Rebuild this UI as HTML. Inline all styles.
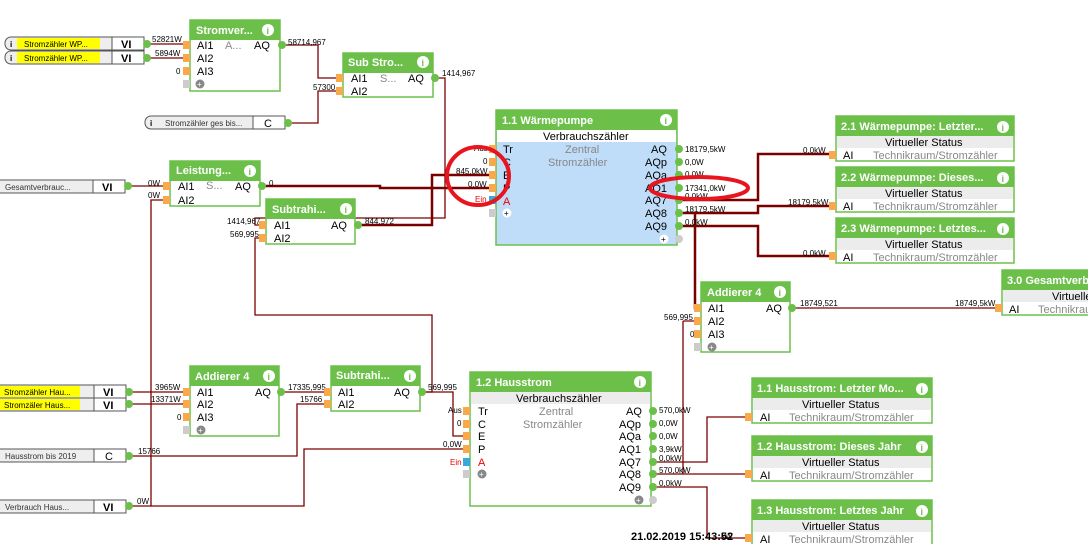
<!DOCTYPE html>
<html><head><meta charset="utf-8"><style>
html,body{margin:0;padding:0;background:#fff;width:1088px;height:544px;overflow:hidden}
svg{display:block;font-family:"Liberation Sans",sans-serif}
.w{fill:none;stroke:#7a0000;stroke-width:1.3}
.wt{fill:none;stroke:#7a0000;stroke-width:2.5}
.v{font-size:8px;fill:#000}
.p{font-size:11px;fill:#000}
.g{font-size:11px;fill:#888}
.t{font-size:11px;font-weight:bold;fill:#fff}
.in{fill:#f7a94b}
.out{fill:#6cc04a}
.box{fill:#fff;stroke:#6cc04a;stroke-width:1.5}
.hd{fill:#6cc04a}
.sub{fill:#ececec}
</style></head><body>
<svg width="1088" height="544" viewBox="0 0 1088 544">
<defs>
<g id="info"><circle r="6" fill="#fff"/><text x="-1.5" y="4" font-size="9" font-weight="bold" fill="#6cc04a">i</text></g>
</defs>

<!-- wires -->
<polyline class="w" points="148,44 190,44"/>
<polyline class="w" points="148,58 190,58"/>
<polyline class="w" points="283,45 318,45 318,78 343,78"/>
<polyline class="w" points="289,123 318,123 318,91 343,91"/>
<polyline class="w" points="436,78 445,78 445,218 255,218 255,225 266,225"/>
<polyline class="w" points="129,186 170,186"/>
<polyline class="w" points="170,200 151,200 151,506 129,506"/>
<polyline class="wt" points="263,186 380,186 380,188 496,188"/>
<polyline class="wt" points="358,225 432,225 432,175 496,175"/>
<polyline class="w" points="423,392 432,392 432,315 255,315 255,238 266,238"/>
<polyline class="w" points="423,392 453,392 453,436 470,436"/>
<polyline class="w" points="129,392 190,392"/>
<polyline class="w" points="129,404 190,404"/>
<polyline class="w" points="282,392 331,392"/>
<polyline class="w" points="129,456 297,456 297,404 331,404"/>
<polyline class="w" points="151,506 304,506 304,449 470,449"/>
<polyline class="wt" points="680,200 758,200 758,154 836,154"/>
<polyline class="wt" points="680,213 758,213 758,206 836,206"/>
<polyline class="wt" points="680,226 758,226 758,256 836,256"/>
<polyline class="wt" points="695,213 695,308 701,308"/>
<polyline class="w" points="683,321 701,321"/>
<polyline class="w" points="683,321 683,474"/>
<polyline class="w" points="793,308 1002,308"/>
<polyline class="w" points="654,462 707,462 707,417 752,417"/>
<polyline class="w" points="654,474 752,474"/>
<polyline class="w" points="654,487 707,487 707,538 752,538"/>

<!-- wire labels -->
<text class="v" x="152" y="42">52821W</text>
<text class="v" x="155" y="56">5894W</text>
<text class="v" x="176" y="74">0</text>
<text class="v" x="288" y="45">58714,967</text>
<text class="v" x="313" y="90">57300</text>
<text class="v" x="442" y="76">1414,967</text>
<text class="v" x="148" y="186">0W</text>
<text class="v" x="148" y="198">0W</text>
<text class="v" x="269" y="186">0</text>
<text class="v" x="227" y="224">1414,967</text>
<text class="v" x="230" y="237">569,995</text>
<text class="v" x="365" y="224">844,972</text>
<text class="v" x="474" y="151">Aus</text>
<text class="v" x="483" y="164">0</text>
<text class="v" x="456" y="174">845,0kW</text>
<text class="v" x="468" y="187">0,0W</text>
<text class="v" x="475" y="202" fill="#e00" style="fill:#e00">Ein</text>
<text class="v" x="685" y="152">18179,5kW</text>
<text class="v" x="685" y="165">0,0W</text>
<text class="v" x="685" y="177">0,0W</text>
<text class="v" x="685" y="191">17341,0kW</text>
<text class="v" x="685" y="199">0,0kW</text>
<text class="v" x="685" y="212">18179,5kW</text>
<text class="v" x="685" y="225">0,0kW</text>
<text class="v" x="803" y="153">0,0kW</text>
<text class="v" x="788" y="205">18179,5kW</text>
<text class="v" x="803" y="256">0,0kW</text>
<text class="v" x="664" y="320">569,995</text>
<text class="v" x="690" y="337">0</text>
<text class="v" x="800" y="306">18749,521</text>
<text class="v" x="955" y="306">18749,5kW</text>
<text class="v" x="155" y="390">3965W</text>
<text class="v" x="151" y="402">13371W</text>
<text class="v" x="177" y="420">0</text>
<text class="v" x="288" y="390">17335,995</text>
<text class="v" x="300" y="402">15766</text>
<text class="v" x="138" y="454">15766</text>
<text class="v" x="137" y="504">0W</text>
<text class="v" x="428" y="390">569,995</text>
<text class="v" x="448" y="413">Aus</text>
<text class="v" x="457" y="426">0</text>
<text class="v" x="443" y="447">0,0W</text>
<text class="v" x="450" y="465" style="fill:#e00">Ein</text>
<text class="v" x="659" y="413">570,0kW</text>
<text class="v" x="659" y="426">0,0W</text>
<text class="v" x="659" y="439">0,0W</text>
<text class="v" x="659" y="452">3,9kW</text>
<text class="v" x="659" y="461">0,0kW</text>
<text class="v" x="659" y="473">570,0kW</text>
<text class="v" x="659" y="486">0,0kW</text>

<!-- left inputs -->
<g>
<rect x="5" y="37" width="139" height="13" rx="6" fill="#eee" stroke="#555"/>
<rect x="17" y="38" width="83" height="11" fill="#ff0"/>
<rect x="112" y="37" width="32" height="13" fill="#fff" stroke="#555"/>
<text x="10" y="47" font-size="8" font-weight="bold">i</text>
<text x="24" y="47" font-size="8">Stromzähler  WP...</text>
<text x="121" y="48" class="p" font-weight="bold">VI</text>
<circle class="out" cx="147" cy="44" r="4"/>
<rect x="5" y="51" width="139" height="13" rx="6" fill="#eee" stroke="#555"/>
<rect x="17" y="52" width="83" height="11" fill="#ff0"/>
<rect x="112" y="51" width="32" height="13" fill="#fff" stroke="#555"/>
<text x="10" y="61" font-size="8" font-weight="bold">i</text>
<text x="24" y="61" font-size="8">Stromzähler  WP...</text>
<text x="121" y="62" class="p" font-weight="bold">VI</text>
<circle class="out" cx="147" cy="58" r="4"/>

<rect x="145" y="116" width="140" height="13" rx="6" fill="#eee" stroke="#555"/>
<rect x="253" y="116" width="32" height="13" fill="#fff" stroke="#555"/>
<text x="150" y="126" font-size="8" font-weight="bold">i</text>
<text x="165" y="126" font-size="8" fill="#333">Stromzähler  ges  bis...</text>
<text x="264" y="127" class="p">C</text>
<circle class="out" cx="288" cy="123" r="4"/>

<rect x="-2" y="180" width="127" height="13" fill="#eee" stroke="#555"/>
<rect x="93" y="180" width="32" height="13" fill="#fff" stroke="#555"/>
<text x="5" y="190" font-size="8" fill="#333">Gesamtverbrauc...</text>
<text x="102" y="191" class="p" font-weight="bold">VI</text>
<circle class="out" cx="128" cy="186" r="4"/>

<rect x="-2" y="385" width="128" height="13" fill="#eee" stroke="#555"/>
<rect x="0" y="386" width="80" height="11" fill="#ff0"/>
<rect x="94" y="385" width="32" height="13" fill="#fff" stroke="#555"/>
<text x="4" y="395" font-size="8">Stromzähler  Hau...</text>
<text x="103" y="396" class="p" font-weight="bold">VI</text>
<circle class="out" cx="129" cy="392" r="4"/>
<rect x="-2" y="398" width="128" height="13" fill="#eee" stroke="#555"/>
<rect x="0" y="399" width="80" height="11" fill="#ff0"/>
<rect x="94" y="398" width="32" height="13" fill="#fff" stroke="#555"/>
<text x="4" y="408" font-size="8">Stromzäler  Haus...</text>
<text x="103" y="409" class="p" font-weight="bold">VI</text>
<circle class="out" cx="129" cy="404" r="4"/>

<rect x="-2" y="449" width="128" height="13" fill="#eee" stroke="#555"/>
<rect x="94" y="449" width="32" height="13" fill="#fff" stroke="#555"/>
<text x="5" y="459" font-size="8" fill="#333">Hausstrom bis 2019</text>
<text x="105" y="460" class="p">C</text>
<circle class="out" cx="129" cy="456" r="4"/>

<rect x="-2" y="500" width="128" height="13" fill="#eee" stroke="#555"/>
<rect x="94" y="500" width="32" height="13" fill="#fff" stroke="#555"/>
<text x="5" y="510" font-size="8" fill="#333">Verbrauch  Haus...</text>
<text x="103" y="511" class="p" font-weight="bold">VI</text>
<circle class="out" cx="129" cy="506" r="4"/>
</g>

<!-- Stromver -->
<rect class="box" x="190" y="20" width="90" height="71"/><rect class="hd" x="190" y="20" width="90" height="20"/>
<text class="t" x="196" y="34">Stromver...</text><use href="#info" x="268" y="30"/>
<rect class="in" x="183" y="41" width="7" height="8"/><rect class="in" x="183" y="54" width="7" height="8"/><rect class="in" x="183" y="67" width="7" height="8"/><rect x="183" y="80" width="7" height="8" fill="#ccc"/>
<text class="p" x="197" y="49">AI1</text><text class="g" x="225" y="49">A...</text><text class="p" x="254" y="49">AQ</text>
<text class="p" x="197" y="62">AI2</text><text class="p" x="197" y="75">AI3</text>
<circle cx="200" cy="84" r="4.5" fill="#888"/><text x="197" y="87" font-size="8" fill="#fff">+</text>
<circle class="out" cx="282" cy="45" r="4"/>

<!-- Sub Stro -->
<rect class="box" x="343" y="53" width="90" height="44"/><rect class="hd" x="343" y="53" width="90" height="20"/>
<text class="t" x="348" y="66">Sub Stro...</text><use href="#info" x="423" y="62"/>
<rect class="in" x="336" y="74" width="7" height="8"/><rect class="in" x="336" y="87" width="7" height="8"/>
<text class="p" x="351" y="82">AI1</text><text class="g" x="380" y="82">S...</text><text class="p" x="408" y="82">AQ</text>
<text class="p" x="351" y="95">AI2</text>
<circle class="out" cx="435" cy="78" r="4"/>

<!-- Leistung -->
<rect class="box" x="170" y="161" width="90" height="45"/><rect class="hd" x="170" y="161" width="90" height="20"/>
<text class="t" x="176" y="174">Leistung...</text><use href="#info" x="250" y="171"/>
<rect class="in" x="163" y="182" width="7" height="8"/><rect class="in" x="163" y="196" width="7" height="8"/>
<text class="p" x="178" y="190">AI1</text><text class="g" x="206" y="189">S...</text><text class="p" x="235" y="190">AQ</text>
<text class="p" x="178" y="204">AI2</text>
<circle class="out" cx="262" cy="186" r="4"/>

<!-- Subtrahi top -->
<rect class="box" x="266" y="199" width="89" height="45"/><rect class="hd" x="266" y="199" width="89" height="20"/>
<text class="t" x="272" y="213">Subtrahi...</text><use href="#info" x="346" y="209"/>
<rect class="in" x="259" y="221" width="7" height="8"/><rect class="in" x="259" y="234" width="7" height="8"/>
<text class="p" x="274" y="229">AI1</text><text class="p" x="331" y="229">AQ</text>
<text class="p" x="274" y="242">AI2</text>
<circle class="out" cx="358" cy="225" r="4"/>

<!-- 1.1 Wärmepumpe -->
<rect class="box" x="496" y="110" width="181" height="135" style="fill:#bfdcf8"/>
<rect class="hd" x="496" y="110" width="181" height="20"/>
<rect x="497" y="130" width="179" height="12" fill="#fff"/>
<text class="t" x="502" y="124">1.1 Wärmepumpe</text><use href="#info" x="666" y="120"/>
<text class="p" x="543" y="140">Verbrauchszähler</text>
<text class="g" x="565" y="153">Zentral</text><text class="g" x="548" y="166">Stromzähler</text>
<rect class="in" x="489" y="145" width="7" height="8"/><rect class="in" x="489" y="158" width="7" height="8"/><rect class="in" x="489" y="171" width="7" height="8"/><rect class="in" x="489" y="184" width="7" height="8"/><rect x="489" y="196" width="7" height="8" fill="#3aa8d8"/><rect x="489" y="209" width="7" height="8" fill="#ccc"/>
<text class="p" x="503" y="153">Tr</text><text class="p" x="503" y="166">C</text><text class="p" x="503" y="179">E</text><text class="p" x="503" y="192">P</text><text class="p" x="503" y="205" style="fill:#e00">A</text>
<circle cx="507" cy="213" r="4.5" fill="#fff"/><text x="504" y="216" font-size="8">+</text>
<text class="p" x="651" y="153">AQ</text><text class="p" x="645" y="166">AQp</text><text class="p" x="645" y="179">AQa</text><text class="p" x="645" y="192">AQ1</text><text class="p" x="645" y="204">AQ7</text><text class="p" x="645" y="217">AQ8</text><text class="p" x="645" y="230">AQ9</text>
<circle cx="664" cy="239" r="4.5" fill="#fff"/><text x="661" y="242" font-size="8">+</text>
<circle class="out" cx="679" cy="149" r="4"/><circle class="out" cx="679" cy="162" r="4"/><circle class="out" cx="679" cy="175" r="4"/><circle class="out" cx="679" cy="188" r="4"/><circle class="out" cx="679" cy="200" r="4"/><circle class="out" cx="679" cy="213" r="4"/><circle class="out" cx="679" cy="226" r="4"/><circle cx="679" cy="239" r="4" fill="#ccc"/>

<!-- Virtual status blocks -->
<g>
<rect class="box" x="836" y="116" width="178" height="45"/><rect class="hd" x="836" y="116" width="178" height="20"/><rect class="sub" x="837" y="136" width="176" height="12"/>
<text class="t" x="841" y="130">2.1 Wärmepumpe: Letzter...</text><use href="#info" x="1003" y="127"/>
<text class="p" x="885" y="146">Virtueller Status</text><text class="p" x="843" y="159">AI</text><text class="g" x="873" y="159">Technikraum/Stromzähler</text>
<rect class="in" x="829" y="151" width="7" height="8"/>
<rect class="box" x="836" y="167" width="178" height="45"/><rect class="hd" x="836" y="167" width="178" height="20"/><rect class="sub" x="837" y="187" width="176" height="12"/>
<text class="t" x="841" y="181">2.2 Wärmepumpe: Dieses...</text><use href="#info" x="1003" y="178"/>
<text class="p" x="885" y="197">Virtueller Status</text><text class="p" x="843" y="210">AI</text><text class="g" x="873" y="210">Technikraum/Stromzähler</text>
<rect class="in" x="829" y="202" width="7" height="8"/>
<rect class="box" x="836" y="218" width="178" height="45"/><rect class="hd" x="836" y="218" width="178" height="20"/><rect class="sub" x="837" y="238" width="176" height="12"/>
<text class="t" x="841" y="232">2.3 Wärmepumpe: Letztes...</text><use href="#info" x="1003" y="229"/>
<text class="p" x="885" y="248">Virtueller Status</text><text class="p" x="843" y="261">AI</text><text class="g" x="873" y="261">Technikraum/Stromzähler</text>
<rect class="in" x="829" y="252" width="7" height="8"/>
<rect class="box" x="1002" y="270" width="100" height="45"/><rect class="hd" x="1002" y="270" width="100" height="20"/><rect class="sub" x="1003" y="290" width="98" height="12"/>
<text class="t" x="1007" y="284">3.0 Gesamtverbrauch</text>
<text class="p" x="1052" y="300">Virtueller</text><text class="p" x="1009" y="313">AI</text><text class="g" x="1038" y="313">Technikraum</text>
<rect class="in" x="995" y="304" width="7" height="8"/>

<rect class="box" x="752" y="378" width="180" height="45"/><rect class="hd" x="752" y="378" width="180" height="20"/><rect class="sub" x="753" y="398" width="178" height="12"/>
<text class="t" x="757" y="392">1.1 Hausstrom: Letzter Mo...</text><use href="#info" x="922" y="389"/>
<text class="p" x="802" y="408">Virtueller Status</text><text class="p" x="760" y="421">AI</text><text class="g" x="789" y="421">Technikraum/Stromzähler</text>
<rect class="in" x="745" y="413" width="7" height="8"/>
<rect class="box" x="752" y="436" width="180" height="45"/><rect class="hd" x="752" y="436" width="180" height="20"/><rect class="sub" x="753" y="456" width="178" height="12"/>
<text class="t" x="757" y="450">1.2 Hausstrom: Dieses Jahr</text><use href="#info" x="922" y="447"/>
<text class="p" x="802" y="466">Virtueller Status</text><text class="p" x="760" y="479">AI</text><text class="g" x="789" y="479">Technikraum/Stromzähler</text>
<rect class="in" x="745" y="470" width="7" height="8"/>
<rect class="box" x="752" y="500" width="180" height="50"/><rect class="hd" x="752" y="500" width="180" height="20"/><rect class="sub" x="753" y="520" width="178" height="12"/>
<text class="t" x="757" y="514">1.3 Hausstrom: Letztes Jahr</text><use href="#info" x="922" y="511"/>
<text class="p" x="802" y="530">Virtueller Status</text><text class="p" x="760" y="543">AI</text><text class="g" x="789" y="543">Technikraum/Stromzähler</text>
<rect class="in" x="745" y="534" width="7" height="8"/>
</g>

<!-- Addierer right -->
<rect class="box" x="701" y="282" width="89" height="70"/><rect class="hd" x="701" y="282" width="89" height="20"/>
<text class="t" x="707" y="296">Addierer 4</text><use href="#info" x="780" y="292"/>
<rect class="in" x="694" y="304" width="7" height="8"/><rect class="in" x="694" y="317" width="7" height="8"/><rect class="in" x="694" y="330" width="7" height="8"/><rect x="694" y="343" width="7" height="8" fill="#ccc"/>
<text class="p" x="708" y="312">AI1</text><text class="p" x="766" y="312">AQ</text>
<text class="p" x="708" y="325">AI2</text><text class="p" x="708" y="338">AI3</text>
<circle cx="712" cy="347" r="4.5" fill="#888"/><text x="709" y="350" font-size="8" fill="#fff">+</text>
<circle class="out" cx="792" cy="308" r="4"/>

<!-- Addierer left -->
<rect class="box" x="190" y="366" width="89" height="70"/><rect class="hd" x="190" y="366" width="89" height="20"/>
<text class="t" x="195" y="380">Addierer 4</text><use href="#info" x="269" y="376"/>
<rect class="in" x="183" y="388" width="7" height="8"/><rect class="in" x="183" y="400" width="7" height="8"/><rect class="in" x="183" y="413" width="7" height="8"/><rect x="183" y="426" width="7" height="8" fill="#ccc"/>
<text class="p" x="197" y="396">AI1</text><text class="p" x="255" y="396">AQ</text>
<text class="p" x="197" y="408">AI2</text><text class="p" x="197" y="421">AI3</text>
<circle cx="201" cy="430" r="4.5" fill="#888"/><text x="198" y="433" font-size="8" fill="#fff">+</text>
<circle class="out" cx="281" cy="392" r="4"/>

<!-- Subtrahi bottom -->
<rect class="box" x="331" y="366" width="89" height="45"/><rect class="hd" x="331" y="366" width="89" height="20"/>
<text class="t" x="336" y="379">Subtrahi...</text><use href="#info" x="410" y="376"/>
<rect class="in" x="324" y="388" width="7" height="8"/><rect class="in" x="324" y="400" width="7" height="8"/>
<text class="p" x="338" y="396">AI1</text><text class="p" x="394" y="396">AQ</text>
<text class="p" x="338" y="408">AI2</text>
<circle class="out" cx="422" cy="392" r="4"/>

<!-- 1.2 Hausstrom -->
<rect class="box" x="470" y="372" width="181" height="134"/>
<rect class="hd" x="470" y="372" width="181" height="20"/>
<rect class="sub" x="471" y="392" width="179" height="12"/>
<text class="t" x="476" y="386">1.2 Hausstrom</text><use href="#info" x="640" y="382"/>
<text class="p" x="516" y="402">Verbrauchszähler</text>
<text class="g" x="539" y="415">Zentral</text><text class="g" x="523" y="428">Stromzähler</text>
<rect class="in" x="463" y="407" width="7" height="8"/><rect class="in" x="463" y="420" width="7" height="8"/><rect class="in" x="463" y="432" width="7" height="8"/><rect class="in" x="463" y="445" width="7" height="8"/><rect x="463" y="458" width="7" height="8" fill="#3aa8d8"/><rect x="463" y="470" width="7" height="8" fill="#ccc"/>
<text class="p" x="478" y="415">Tr</text><text class="p" x="478" y="428">C</text><text class="p" x="478" y="440">E</text><text class="p" x="478" y="453">P</text><text class="p" x="478" y="466" style="fill:#e00">A</text>
<circle cx="482" cy="474" r="4.5" fill="#888"/><text x="479" y="477" font-size="8" fill="#fff">+</text>
<text class="p" x="626" y="415">AQ</text><text class="p" x="619" y="428">AQp</text><text class="p" x="619" y="440">AQa</text><text class="p" x="619" y="453">AQ1</text><text class="p" x="619" y="466">AQ7</text><text class="p" x="619" y="478">AQ8</text><text class="p" x="619" y="491">AQ9</text>
<circle cx="639" cy="500" r="4.5" fill="#888"/><text x="636" y="503" font-size="8" fill="#fff">+</text>
<circle class="out" cx="653" cy="411" r="4"/><circle class="out" cx="653" cy="424" r="4"/><circle class="out" cx="653" cy="436" r="4"/><circle class="out" cx="653" cy="449" r="4"/><circle class="out" cx="653" cy="462" r="4"/><circle class="out" cx="653" cy="474" r="4"/><circle class="out" cx="653" cy="487" r="4"/><circle cx="653" cy="500" r="4" fill="#ccc"/>

<!-- timestamp -->
<text x="631" y="540" font-size="11" font-weight="bold">21.02.2019 15:43:52</text>
<text class="v" x="721" y="539">kW</text>

<!-- red marks -->
<ellipse cx="478" cy="176" rx="31" ry="29" fill="none" stroke="#e8141e" stroke-width="4"/>
<ellipse cx="699" cy="188" rx="49" ry="11" fill="none" stroke="#e8141e" stroke-width="4"/>
</svg>
</body></html>
